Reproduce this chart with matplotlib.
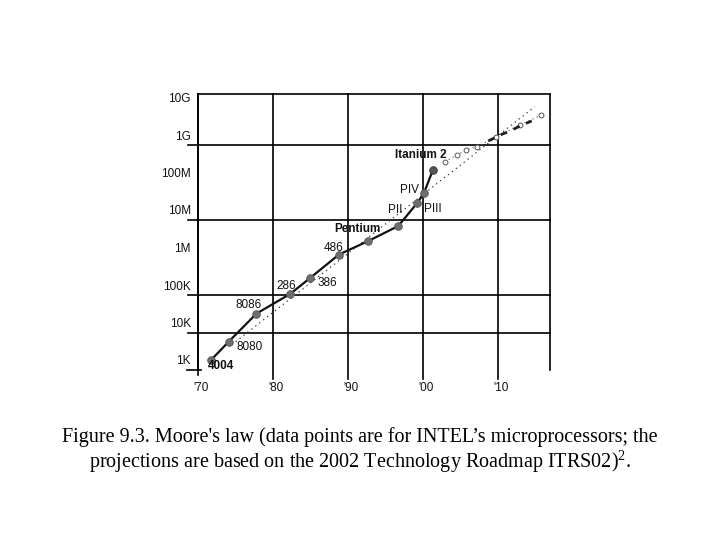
import matplotlib
matplotlib.use("Agg")
import matplotlib.pyplot as plt
from matplotlib.transforms import offset_copy

# ---- data ----
chip_names = ["4004", "8080", "8086", "286", "386", "486", "Pentium", "PII", "PIII", "PIV", "Itanium 2"]
chip_years = [1971.8, 1974.1, 1977.8, 1982.3, 1985.0, 1988.8, 1992.7, 1996.7, 1999.2, 2000.1, 2001.3]
chip_transistors = [1.9e3, 5.7e3, 3.2e4, 1.07e5, 2.9e5, 1.2e6, 2.75e6, 6.9e6, 2.8e7, 5.1e7, 2.1e8]

proj_years = [2002.9, 2004.5, 2005.8, 2007.2, 2009.8, 2012.9, 2015.8]
proj_values = [3.6e8, 5.4e8, 7.4e8, 9.0e8, 1.66e9, 3.4e9, 6.3e9]

proj2_years = [2008.7, 2010.3, 2011.6, 2013.2, 2014.5]
proj2_values = [1.28e9, 1.85e9, 2.36e9, 3.41e9, 4.37e9]

trend_years = [1974.5, 2014.9]
trend_values = [4.7e3, 1.05e10]

ytick_values = [1e10, 1e9, 1e8, 1e7, 1e6, 1e5, 1e4, 1e3]
ytick_labels = ["10G", "1G", "100M", "10M", "1M", "100K", "10K", "1K"]
xtick_years = [1970, 1980, 1990, 2000, 2010]
xtick_labels = ["'70", "'80", "'90", "'00", "'10"]
hgrid_values = [1e9, 1e7, 1e5, 1e4]

caption = ("Figure 9.3. Moore's law (data points are for INTEL\u2019s microprocessors; the\n"
           "projections are based on the 2002 Technology Roadmap ITRS02)$^{2}$.")

plt.rcParams['mathtext.fontset'] = 'custom'
plt.rcParams['mathtext.rm'] = 'Liberation Serif'
plt.rcParams['mathtext.it'] = 'Liberation Serif'
plt.rcParams['mathtext.bf'] = 'Liberation Serif'

fig = plt.figure(figsize=(7.2, 5.4), dpi=100)
W, H = 720, 540
L, R, T, B = 198, 550, 94, 370
ax = fig.add_axes([L / W, 1 - B / H, (R - L) / W, (B - T) / H])
ax.set_yscale('log')
ax.set_xlim(1970, 1970 + (R - L) / 7.5)
ax.set_ylim(1e3, 10 ** (3 + (B - T) / 37.5))
ax.set_xticks([])
ax.set_yticks([])
ax.minorticks_off()
ax.yaxis.set_minor_locator(matplotlib.ticker.NullLocator())
ax.spines["bottom"].set_visible(False)
for s in ["top", "left", "right"]:
    ax.spines[s].set_linewidth(1.2)
    ax.spines[s].set_color("black")

pw, ph = R - L, B - T
lc = "black"
lw = 1.2
for x in xtick_years[1:]:
    ax.axvline(x, ymin=-9 / ph, ymax=1, color=lc, lw=lw, clip_on=False)
ax.axvline(1970, ymin=-5 / ph, ymax=1, color=lc, lw=lw, clip_on=False)
for y in hgrid_values:
    ax.axhline(y, xmin=-10 / pw, xmax=1, color=lc, lw=lw, clip_on=False)
ax.axhline(1e3, xmin=-11 / pw, xmax=3 / pw, color=lc, lw=lw, clip_on=False)

# y labels (sit above their decade)
ytr = offset_copy(ax.get_yaxis_transform(), fig=fig, x=0, y=8.5 * 72 / 100, units='points')
for v, t in zip(ytick_values, ytick_labels):
    ax.text(-7 / pw, v, t, transform=ytr, ha='right', va='center',
            fontsize=8.5, family='Liberation Sans', color='#111111')
for x, t in zip(xtick_years, xtick_labels):
    ax.text(x + 0.4, -18 / ph, t, transform=ax.get_xaxis_transform(), ha='center', va='center',
            fontsize=8.5, family='Liberation Sans', color='#111111')

# trend + projections
ax.plot(trend_years, trend_values, linestyle=(0, (1, 3)), color='#333333', lw=0.9, zorder=2)
ax.plot(proj_years, proj_values, linestyle=(0, (1, 3)), color='#444444', lw=0.8,
        marker='o', mfc='white', mec='#555555', ms=3.5, mew=0.7, zorder=2)
ax.plot(proj2_years, proj2_values, linestyle=(0, (2.5, 2.5)), color='#222222', lw=2.0, zorder=2)

# data line
ax.plot(chip_years, chip_transistors, color='#111111', lw=1.6, zorder=3)
ax.plot(chip_years[:-1], chip_transistors[:-1], linestyle='none', marker='o', ms=5.5,
        mfc='#6e6e6e', mec='#555555', mew=0.6, zorder=4)
ax.plot(chip_years[-1:], chip_transistors[-1:], linestyle='none', marker='o', ms=5.5,
        mfc='#555555', mec='#333333', mew=0.6, zorder=4)

def px2data(px, py):
    return 1970 + (px - L) / 7.5, 10 ** (3 + (B - py) / 37.5)

label_pos = {
    "4004": (221, 366, 'bold'),
    "8080": (250, 347, 'normal'),
    "8086": (249, 305, 'normal'),
    "286": (286, 286, 'normal'),
    "386": (327, 283, 'normal'),
    "486": (334, 248, 'normal'),
    "Pentium": (357, 229, 'bold'),
    "PII": (395, 210, 'normal'),
    "PIII": (433, 209, 'normal'),
    "PIV": (410, 190, 'normal'),
    "Itanium 2": (421, 155, 'bold'),
}
for name in chip_names:
    px, py, wt = label_pos[name]
    xd, yd = px2data(px, py)
    ax.text(xd, yd, name, ha='center', va='center', fontsize=8.5,
            family='Liberation Sans', fontweight=wt, color='#111111', zorder=5)

fig.text(0.5, 1 - 451 / H, caption, ha='center', va='center', fontsize=14.5,
         family='Liberation Serif', linespacing=1.07)

fig.savefig("out.png", dpi=100)
